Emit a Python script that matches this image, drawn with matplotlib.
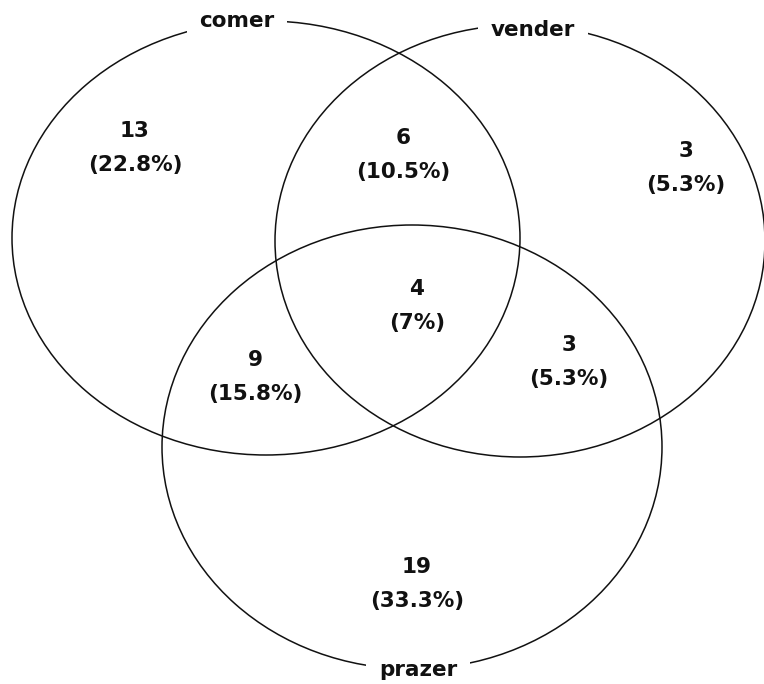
import matplotlib.pyplot as plt
from matplotlib.patches import Ellipse

# data
set_names = ["comer", "vender", "prazer"]
region_keys = ["100", "110", "010", "111", "101", "011", "001"]
region_counts = [13, 6, 3, 4, 9, 3, 19]
region_pcts = ["22.8%", "10.5%", "5.3%", "7%", "15.8%", "5.3%", "33.3%"]

# layout in pixel coordinates
circles = [(266, 238, 508, 434), (520, 241, 490, 432), (412, 447, 500, 444)]
name_pos = [(237, 21), (533, 30), (418, 670)]
region_pos = {"100": (135, 148), "110": (403, 155), "010": (686, 168),
              "111": (417, 306), "101": (255, 377), "011": (569, 362),
              "001": (417, 584)}

fig = plt.figure(figsize=(7.64, 6.84), dpi=100)
ax = fig.add_axes([0, 0, 1, 1])
ax.set_xlim(0, 764)
ax.set_ylim(684, 0)
ax.axis("off")

for cx, cy, w, h in circles:
    ax.add_patch(Ellipse((cx, cy), w, h, fill=False, edgecolor="#111111", lw=1.1))

for name, (x, y) in zip(set_names, name_pos):
    ax.text(x, y, name, ha="center", va="center", fontsize=15.5, fontweight="bold",
            color="#111111",
            bbox=dict(facecolor="white", edgecolor="none", pad=9))

for key, n, p in zip(region_keys, region_counts, region_pcts):
    x, y = region_pos[key]
    ax.text(x, y, f"{n}\n({p})", ha="center", va="center", fontsize=15.5,
            fontweight="bold", color="#111111", linespacing=1.85)

fig.savefig("out.png", dpi=100)
